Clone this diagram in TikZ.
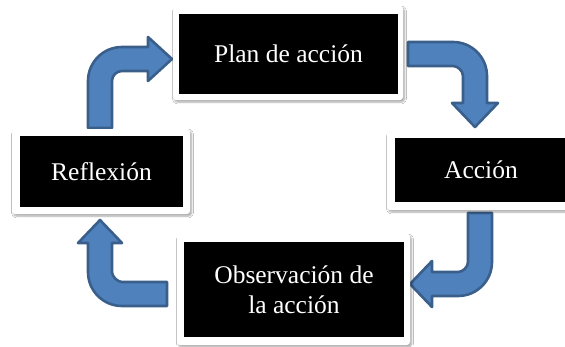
\documentclass[tikz,border=0pt]{standalone}
\usepackage{fontspec}
\setmainfont{Liberation Serif}
\usetikzlibrary{shadows.blur}
\definecolor{arrowfill}{HTML}{4F81BD}
\definecolor{arrowline}{HTML}{3A5F8B}
\tikzset{
  frame/.style={draw=none, fill=white, rounded corners=3pt, inner sep=0pt,
    blur shadow={shadow xshift=1.5pt, shadow yshift=-2pt, shadow blur steps=6, shadow opacity=35}},
  blackbox/.style={fill=black, inner sep=0pt, text=white, align=center,
    font=\fontsize{25.5}{30}\selectfont},
  bentarrow/.style={fill=arrowfill, draw=arrowline, line width=2.6pt, line join=round}
}
\begin{document}
\begin{tikzpicture}[x=1pt,y=-1pt]
\useasboundingbox (0,0) rectangle (565,346);
\clip (0,0) rectangle (565,346);
\fill[white] (0,0) rectangle (565,346);
% arrows
\draw[bentarrow] (88,128) -- (88,81) .. controls (88,62.2) and (103.2,47) .. (122,47) -- (148,47) -- (148,37) -- (172,59) -- (148,81) -- (148,71) -- (122,71) .. controls (116.5,71) and (112,75.5) .. (112,81) -- (112,128) -- cycle;
\draw[bentarrow] (408,42) -- (453,42) .. controls (471.8,42) and (487,57.2) .. (487,76) -- (487,103) -- (498,103) -- (475,127) -- (452,103) -- (463,103) -- (463,76) .. controls (463,70.5) and (457.5,66) .. (453,66) -- (408,66) -- cycle;
\draw[bentarrow] (492,213) -- (492,262) .. controls (492,280.8) and (476.8,296) .. (458,296) -- (432,296) -- (432,307) -- (410,284) -- (432,261) -- (432,272) -- (458,272) .. controls (462.5,272) and (468,267.5) .. (468,262) -- (468,213) -- cycle;
\draw[bentarrow] (167,282) -- (122,282) .. controls (117.5,282) and (112,276.5) .. (112,272) -- (112,243) -- (122,243) -- (100,220) -- (78,243) -- (88,243) -- (88,272) .. controls (88,290.8) and (103.2,306) .. (122,306) -- (167,306) -- cycle;
% frames
\node[frame, minimum width=230pt, minimum height=94pt] (planF) at (288,53) {};
\node[frame, minimum width=188pt, minimum height=79pt] (accionF) at (481,170.5) {};
\node[frame, minimum width=178pt, minimum height=85pt] (reflexionF) at (101,171.5) {};
\node[frame, minimum width=233pt, minimum height=111pt] (observacionF) at (293.5,289.5) {};
% boxes
\node[blackbox, minimum width=219pt, minimum height=80pt] (plan) at (288.5,54) {Plan de acción};
\node[blackbox, minimum width=172pt, minimum height=64pt] (accion) at (481,170) {Acción};
\node[blackbox, minimum width=163pt, minimum height=71pt] (reflexion) at (101.5,171.5) {Reflexión};
\node[blackbox, minimum width=220pt, minimum height=95pt] (observacion) at (294,289.5) {Observación de\\la acción};
\end{tikzpicture}
\end{document}
